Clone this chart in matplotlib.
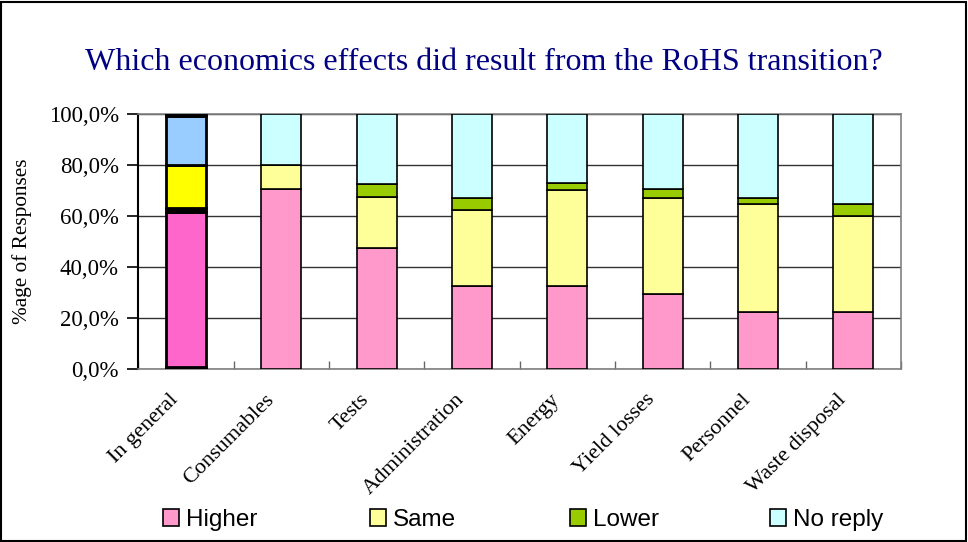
import matplotlib
matplotlib.use("Agg")
import matplotlib.pyplot as plt
import matplotlib.patches as mpatches
from matplotlib.transforms import ScaledTranslation
import numpy as np

# Survey categories and the share of responses (%) per answer
categories = ["In general", "Consumables", "Tests", "Administration", "Energy",
              "Yield losses", "Personnel", "Waste disposal"]
series_names = ["Higher", "Same", "Lower", "No reply"]
series_colors = ["#FF99CC", "#FFFF99", "#99CC00", "#CCFFFF"]

higher = [0.0, 70.5, 47.5, 32.6, 32.6, 29.6, 22.6, 22.6]
same = [0.0, 9.5, 19.8, 29.8, 37.6, 37.6, 42.3, 37.6]
lower = [0.0, 0.0, 5.3, 4.6, 2.6, 3.3, 2.1, 4.4]
no_reply = [0.0, 20.0, 27.4, 33.0, 27.2, 29.5, 33.0, 35.4]

# "In general" bar uses its own segment set
general_segments = [0.8, 61.0, 1.2, 17.0, 19.4, 0.6]
general_colors = ["#9C5A7C", "#FF66CC", "#000000", "#FFFF00", "#99CCFF", "#000000"]

yticks = [0, 20, 40, 60, 80, 100]
ytick_labels = ["0,0%", "20,0%", "40,0%", "60,0%", "80,0%", "100,0%"]

serif = ["Liberation Serif", "DejaVu Serif"]
sans = ["Liberation Sans", "DejaVu Sans"]

W, H = 968, 542
fig = plt.figure(figsize=(W / 100, H / 100), dpi=100)
ax_left, ax_right, ax_bot, ax_top = 138.3, 901.0, 369.3, 114.0
ax = fig.add_axes([ax_left / W, 1 - ax_bot / H, (ax_right - ax_left) / W, (ax_bot - ax_top) / H])

x = np.arange(len(categories))
bar_w = 0.42

# stacked bars for the regular categories
bottom = np.zeros(len(categories))
for name, vals, col in zip(series_names, [higher, same, lower, no_reply], series_colors):
    vals = np.array(vals)
    mask = x > 0
    ax.bar(x[mask], vals[mask], bar_w, bottom=bottom[mask], color=col,
           edgecolor="black", linewidth=1.2, zorder=3)
    bottom += vals

# the "In general" bar
gb = 0.0
for v, c in zip(general_segments, general_colors):
    ax.bar(x[0], v, bar_w, bottom=gb, color=c, edgecolor="black",
           linewidth=2.0, zorder=3)
    gb += v

ax.set_xlim(-0.5, len(categories) - 0.5)
ax.set_ylim(0, 100)

ax.set_yticks(yticks)
ax.set_yticklabels(ytick_labels, family=serif, fontsize=16.5)
ax.tick_params(axis="y", direction="out", length=8, width=1.2, color="black", pad=6)
ax.yaxis.grid(True, color="#333333", linewidth=1.0, zorder=0)

ax.set_xticks(x)
ax.set_xticklabels(categories, family=serif, fontsize=16, rotation=45,
                   ha="right", va="top", rotation_mode="anchor")
ax.tick_params(axis="x", which="major", length=0, pad=15)
ax.set_xticks(np.arange(-0.5, len(categories)), minor=True)
ax.tick_params(axis="x", which="minor", direction="in", length=6, width=1.0, color="#666666")
shift = ScaledTranslation(-17 / 100, 0, fig.dpi_scale_trans)
for lab in ax.get_xticklabels():
    lab.set_transform(lab.get_transform() + shift)

ax.spines["left"].set_color("black")
ax.spines["left"].set_linewidth(1.5)
for s in ["bottom", "top", "right"]:
    ax.spines[s].set_color("#808080")
    ax.spines[s].set_linewidth(1.2)

ax.set_ylabel("%age of Responses", family=serif, fontsize=15.3)
ax.yaxis.set_label_coords((32 - ax_left) / (ax_right - ax_left), 0.5)

fig.text(0.5, 1 - 63 / H, "Which economics effects did result from the RoHS transition?",
         ha="center", va="center", family=serif, fontsize=23, color="#000080")

# legend, one entry per evenly spaced slot
legend_x = [163, 370, 570, 770]
for name, col, lx in zip(series_names, series_colors, legend_x):
    h = mpatches.Patch(facecolor=col, edgecolor="black", linewidth=1.2)
    fig.legend([h], [name], loc="center left", bbox_to_anchor=(lx / W, 1 - 520 / H),
               frameon=False, borderpad=0, borderaxespad=0, handlelength=0.65,
               handleheight=0.65, handletextpad=0.3,
               prop={"family": sans, "size": 17.5})

# outer frame around the whole chart
fig.patches.append(mpatches.Rectangle((1 / W, 1 / H), 1 - 3 / W, 1 - 3 / H,
                                      transform=fig.transFigure, fill=False,
                                      edgecolor="black", linewidth=1.5))

fig.savefig("out.png", dpi=100)
